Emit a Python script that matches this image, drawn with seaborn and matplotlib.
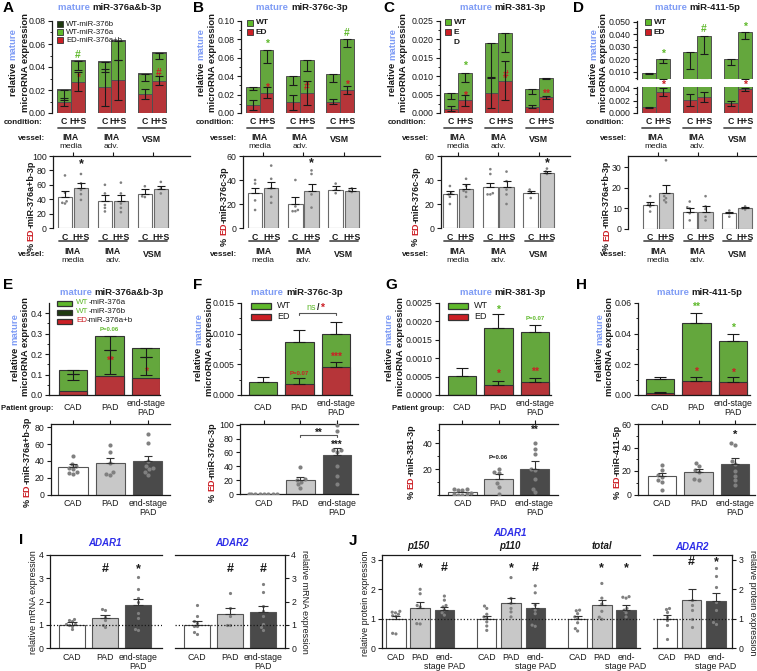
import numpy as np
import pandas as pd
import matplotlib
matplotlib.use("Agg")
import matplotlib.pyplot as plt
import seaborn as sns
from matplotlib import transforms
from matplotlib.patches import Rectangle
from matplotlib.lines import Line2D
from matplotlib.ticker import FixedLocator, FormatStrFormatter

# ============================ DATA ============================
vessels = ["IMA media", "IMA adv.", "VSM"]
vessel_main = ["IMA", "IMA", "VSM"]
vessel_sub = ["media", "adv.", ""]
conditions = ["C", "H+S"]
groups = ["CAD", "PAD", "end-stage PAD"]
group_labels = [["CAD"], ["PAD"], ["end-stage", "PAD"]]
group_labels_j = [["CAD"], ["PAD"], ["end-", "stage PAD"]]
isoforms = ["p150", "p110", "total"]

# --- A: miR-376a&b-3p (stacked; order per vessel: C, H+S)
a_total = [0.0199, 0.0455, 0.0446, 0.0627, 0.0340, 0.0524]
a_wt376b = [0.0006, 0.0006, 0.0006, 0.0006, 0.0006, 0.0006]
a_ed = [0.0095, 0.0273, 0.0224, 0.0288, 0.0164, 0.0282]
a_ed_lo = [0.0063, 0.0187, 0.0063, 0.0115, 0.0120, 0.0242]
a_ed_hi = [0.0127, 0.0360, 0.0385, 0.0460, 0.0210, 0.0322]
a_wt_lo = [0.0110, 0.0374, 0.0360, 0.0460, 0.0275, 0.0466]
a_pct_mean = [43.6, 55.0, 38.0, 37.6, 47.0, 53.7]
a_pct_sem = [8.4, 8.0, 8.0, 8.4, 6.7, 5.0]
a_pct_pts = [[73, 49, 37, 35, 34], [75, 62, 53, 47, 39], [60, 48, 32, 28, 23],
             [63, 48, 34, 28, 22], [58, 44, 43], [64, 55, 48]]

# --- B: miR-376c-3p
b_total = [0.028, 0.068, 0.040, 0.058, 0.042, 0.080]
b_ed = [0.009, 0.022, 0.0115, 0.022, 0.0125, 0.025]
b_ed_lo = [0.0036, 0.016, 0.0035, 0.009, 0.010, 0.021]
b_ed_hi = [0.0144, 0.028, 0.0195, 0.035, 0.015, 0.029]
b_wt_lo = [0.0245, 0.0547, 0.030, 0.046, 0.0335, 0.072]
b_pct_mean = [29.0, 33.0, 20.0, 31.0, 31.7, 31.0]
b_pct_sem = [4.0, 5.6, 6.0, 5.6, 3.3, 2.0]
b_pct_pts = [[40, 37, 23, 15], [52, 41, 33, 26, 21], [40, 18, 15, 14, 14],
             [48, 45, 28, 17], [37, 32, 29], [33, 31, 30]]

# --- C: miR-381-3p
c_total = [0.0053, 0.0110, 0.0190, 0.0217, 0.0065, 0.0096]
c_ed = [0.0012, 0.0034, 0.0055, 0.0088, 0.0017, 0.0043]
c_ed_lo = [0.0006, 0.0020, 0.0013, 0.0036, 0.0013, 0.0039]
c_ed_hi = [0.0018, 0.0048, 0.0097, 0.0140, 0.0021, 0.0047]
c_wt_lo = [0.0038, 0.0085, 0.0094, 0.0166, 0.0052, 0.0093]
c_pct_mean = [28.0, 32.5, 34.5, 34.5, 29.0, 45.5]
c_pct_sem = [3.0, 4.0, 3.2, 5.0, 2.0, 2.2]
c_pct_pts = [[35, 29, 26, 20, 28], [41, 35, 31, 26, 30], [49, 45, 29, 28, 28],
             [47, 39, 32, 28, 20], [32, 30, 25], [49.5, 47, 45]]

# --- D: miR-411-5p (broken axis)
d_total = [0.0093, 0.0205, 0.0255, 0.0385, 0.0200, 0.0415]
d_ed = [0.0009, 0.0034, 0.0021, 0.0026, 0.0016, 0.0038]
d_ed_lo = [0.0008, 0.0027, 0.0012, 0.0017, 0.0012, 0.0035]
d_ed_hi = [0.0010, 0.0041, 0.0030, 0.0034, 0.0020, 0.0040]
d_wt_lo = [0.0080, 0.0170, 0.0120, 0.0245, 0.0158, 0.0360]
d_pct_mean = [11.8, 17.7, 8.5, 8.5, 7.7, 10.0]
d_pct_sem = [1.6, 4.0, 1.5, 2.5, 0.8, 0.5]
d_pct_pts = [[16, 12, 11, 8.5], [33.5, 16, 15, 14, 13], [13.4, 10.6, 10, 7.7, 4.2],
             [16, 11, 9.7, 6, 4.2], [9, 7.7, 6], [11, 10, 9.5]]

# --- E: miR-376a&b-3p patients
e_total = [0.120, 0.290, 0.231]
e_ed = [0.021, 0.092, 0.081]
e_ed_lo = [0.073, 0.105, 0.097]
e_ed_hi = [0.102, 0.222, 0.186]
e_wt_lo = [0.102, 0.222, 0.186]
e_pct_mean = [33.0, 38.0, 40.0]
e_pct_sem = [3.0, 5.5, 6.0]
e_pct_pts = [[46, 36, 34, 32, 30, 27, 25, 26], [59, 51, 38, 27, 24, 23],
             [72, 61, 40, 34, 31, 30, 27, 23]]

# --- F: miR-376c-3p patients
f_total = [0.0022, 0.00866, 0.0100]
f_ed = [0.0, 0.0018, 0.0045]
f_ed_err = [0.0, 0.0009, 0.0009]
f_wt_err = [0.0007, 0.0019, 0.0019]
f_pct_mean = [0.0, 20.0, 56.0]
f_pct_sem = [0.0, 4.5, 11.0]
f_pct_pts = [[0, 0, 0, 0, 0, 0, 0, 0], [39, 22, 20, 18, 14, 9],
             [100, 91, 64, 63, 61, 40, 26, 14]]

# --- G: miR-381-3p patients
g_total = [0.00052, 0.00182, 0.00170]
g_ed = [0.0, 0.00028, 0.00034]
g_ed_err = [0.0, 0.00011, 0.00011]
g_wt_err = [0.00022, 0.00039, 0.00021]
g_pct_mean = [2.0, 12.7, 20.5]
g_pct_sem = [0.7, 3.3, 5.5]
g_pct_pts = [[5, 4.5, 4, 3.5, 1.5, 1.0, 0.5, 0.3, 0.2], [20.5, 18, 17, 9, 6, 1],
             [40.5, 36, 32, 20.5, 19, 12.7, 5, 2]]

# --- H: miR-411-5p patients
h_total = [0.0102, 0.0470, 0.0351]
h_ed = [0.0010, 0.0092, 0.0087]
h_ed_err = [0.0007, 0.0027, 0.0028]
h_wt_err = [0.0017, 0.0067, 0.0049]
h_pct_mean = [15.5, 19.4, 26.0]
h_pct_sem = [2.7, 2.3, 5.0]
h_pct_pts = [[25, 21, 17, 15, 12, 11, 4], [27, 24, 21, 19, 13, 12],
             [43.5, 42.5, 28.6, 26, 20.3, 15.7, 12, 8]]

# --- I: mRNA
i_adar1_mean = [1.00, 1.29, 1.83]
i_adar1_sem = [0.10, 0.11, 0.28]
i_adar1_pts = [[1.25, 1.2, 1.15, 1.05, 1.02, 0.98, 0.95, 0.8], [1.68, 1.62, 1.35, 1.2, 1.0, 0.9],
               [3.07, 2.53, 2.14, 1.96, 1.5, 1.29, 0.81, 0.76]]
i_adar2_mean = [1.00, 1.47, 1.53]
i_adar2_sem = [0.14, 0.27, 0.28]
i_adar2_pts = [[1.85, 1.36, 1.14, 1.07, 0.95, 0.93, 0.67, 0.61], [2.36, 1.71, 1.36, 1.0, 0.97],
               [2.74, 2.43, 1.8, 1.57, 1.36, 1.04, 0.9, 0.79]]

# --- J: protein
j_adar1_mean = [[1.00, 1.38, 1.31], [0.98, 1.52, 1.35], [0.99, 1.46, 1.31]]
j_adar1_sem = [[0.10, 0.19, 0.09], [0.12, 0.20, 0.17], [0.11, 0.19, 0.15]]
j_adar1_pts = [
    [[1.25, 1.22, 1.2, 1.15, 1.1, 1.08, 0.5, 0.48], [2.0, 1.85, 1.45, 1.4, 0.83, 0.82],
     [1.77, 1.63, 1.45, 1.4, 1.3, 1.2, 1.12]],
    [[1.43, 1.35, 1.15, 1.06, 1.0, 0.89, 0.75, 0.6], [2.4, 1.69, 1.52, 1.35, 1.23, 1.06],
     [2.12, 1.88, 1.46, 1.29, 1.17, 0.78, 0.74]],
    [[1.29, 1.27, 1.17, 1.06, 1.0, 0.86, 0.66, 0.58], [2.2, 1.7, 1.5, 1.25, 1.05, 0.98],
     [1.75, 1.73, 1.7, 1.35, 1.29, 1.2, 1.06]],
]
j_adar2_mean = [1.00, 1.63, 1.60]
j_adar2_sem = [0.12, 0.37, 0.27]
j_adar2_pts = [[1.36, 1.33, 1.23, 1.06, 0.95, 0.8, 0.32], [1.62, 1.46, 1.3, 1.0, 0.72],
               [2.71, 2.45, 2.08, 1.57, 1.29, 0.89, 0.83]]

# ============================ STYLE ============================
sns.set_theme(style="white")
plt.rcParams["font.family"] = ["Liberation Sans", "DejaVu Sans"]
plt.rcParams["axes.linewidth"] = 0.9

GREEN = "#5fb92b"
DKGREEN = "#1f3a10"
RED = "#cc1f25"
BLUE_M = "#7f9cf5"
ADARBLUE = "#2e2ee8"
EDGE = "#505050"
WHITE = "#ffffff"
LGRAY = "#c8c8c8"
DGRAY = "#4a4a4a"
DOT = "#808080"
INK = "#1a1a1a"

FS_TICK = 6.3
FS_LAB = 6.8
FS_PCT = 6.5
FS_ROW = 5.8
FS_COND = 6.3
FS_CAT = 6.3
FS_TITLE = 6.8
FS_LET = 11

W, H = 757, 671
fig = plt.figure(figsize=(W / 100, H / 100), dpi=100)
_R = fig.canvas.get_renderer()


def axpx(l, t, r, b):
    return fig.add_axes([l / W, 1 - b / H, (r - l) / W, (b - t) / H])


def ftext(x, y, s, **kw):
    return fig.text(x / W, 1 - y / H, s, **kw)


def twidth(s, **kw):
    t = fig.text(0, 0, s, **kw)
    w = t.get_window_extent(_R).width
    t.remove()
    return w


def ctext(x, y, parts, rot=0, ha="center", **kw):
    full = "".join(p for p, _ in parts)
    tot = twidth(full, **kw)
    bar = twidth("|", **kw)
    start = {"center": -tot / 2, "left": 0.0, "right": -tot}[ha]
    pre = ""
    for s, c in parts:
        off = start + ((twidth(pre + "|", **kw) - bar) if pre else 0.0)
        if rot == 0:
            fig.text((x + off) / W, 1 - y / H, s, color=c, ha="left", va="center", **kw)
        else:
            fig.text(x / W, 1 - (y - off) / H, s, color=c, rotation=90, ha="center", va="bottom", **kw)
        pre += s


def xt(ax, x, ypx, s, **kw):
    tr = transforms.blended_transform_factory(ax.transData, fig.transFigure)
    ax.text(x, 1 - ypx / H, s, transform=tr, clip_on=False, **kw)


def xlines_text(ax, x, ypx_center, lines, step=9.5, **kw):
    n = len(lines)
    for i, s in enumerate(lines):
        xt(ax, x, ypx_center + (i - (n - 1) / 2) * step, s, ha="center", va="center", **kw)


def xline(ax, x0, x1, ypx, **kw):
    tr = transforms.blended_transform_factory(ax.transData, fig.transFigure)
    ax.add_line(Line2D([x0, x1], [1 - ypx / H] * 2, transform=tr, clip_on=False, **kw))


def rectpx(x0, y0, w, h, fc, ec="none", lw=0.6):
    fig.patches.append(Rectangle((x0 / W, 1 - (y0 + h) / H), w / W, h / H, transform=fig.transFigure,
                                 facecolor=fc, edgecolor=ec, linewidth=lw))


def setup(ax, ylim, ticks, fmt, minor=None, left=True, right=False, top=False, bottom=False):
    ax.set_ylim(*ylim)
    ax.yaxis.set_major_locator(FixedLocator(ticks))
    ax.yaxis.set_major_formatter(FormatStrFormatter(fmt))
    if minor is not None:
        ax.yaxis.set_minor_locator(FixedLocator(minor))
    for s, v in [("left", left), ("right", right), ("top", top), ("bottom", bottom)]:
        ax.spines[s].set_visible(v)
        ax.spines[s].set_color(INK)
        ax.spines[s].set_linewidth(0.9)
    ax.tick_params(axis="y", which="major", direction="out", length=3, width=0.8, labelsize=FS_TICK,
                   pad=1.5, left=left, right=right, labelleft=left, labelright=right, colors=INK)
    ax.tick_params(axis="y", which="minor", direction="out", length=1.6, width=0.7, left=left, right=right)
    ax.tick_params(axis="x", which="both", bottom=False, top=False, labelbottom=False, labeltop=False)
    ax.set_xlabel("")
    ax.set_ylabel("")
    ax.set_facecolor("none")


def top_ticks(ax):
    ax.set_xticks(range(3))
    ax.tick_params(axis="x", which="major", top=True, bottom=False, direction="out", length=3,
                   width=0.8, labeltop=False, labelbottom=False, colors=INK)


def errlines(ax, xs, lo, hi, cap, lw=0.8, color=INK):
    lo = np.asarray(lo, float)
    hi = np.asarray(hi, float)
    xs = np.asarray(xs, float)
    ok = hi > lo
    ax.errorbar(xs[ok], ((lo + hi) / 2)[ok], yerr=((hi - lo) / 2)[ok], fmt="none", ecolor=color,
                elinewidth=lw, capsize=cap, capthick=lw, zorder=5)


def pair_x(off):
    return [g + s * off for g in range(3) for s in (-1, 1)]


def stacked_pairs(ax, tot, ed, extra=None):
    df = pd.DataFrame({"vessel": np.repeat(vessels, 2), "cond": conditions * 3, "tot": tot, "ed": ed})
    layers = []
    if extra is not None:
        df["top"] = np.asarray(tot) + np.asarray(extra)
        layers.append(("top", DKGREEN))
    layers += [("tot", GREEN), ("ed", RED)]
    for col, colr in layers:
        sns.barplot(data=df, x="vessel", y=col, hue="cond", order=vessels, hue_order=conditions,
                    palette=[colr, colr], width=0.68, gap=0, errorbar=None, edgecolor=EDGE,
                    linewidth=0.7, legend=False, ax=ax)


def lower_pairs(ax, means, sems, pts):
    df = pd.DataFrame({"vessel": np.repeat(vessels, 2), "cond": conditions * 3, "v": means})
    sns.barplot(data=df, x="vessel", y="v", hue="cond", order=vessels, hue_order=conditions,
                palette=[WHITE, LGRAY], width=0.8, gap=0.1, errorbar=None, edgecolor="#6a6a6a",
                linewidth=0.8, legend=False, ax=ax)
    rows = [(vessels[i // 2], conditions[i % 2], p) for i, ps in enumerate(pts) for p in ps]
    dp = pd.DataFrame(rows, columns=["vessel", "cond", "v"])
    sns.swarmplot(data=dp, x="vessel", y="v", hue="cond", order=vessels, hue_order=conditions,
                  palette=[DOT, DOT], dodge=True, size=1.9, legend=False, ax=ax)
    errlines(ax, pair_x(0.2), means, np.asarray(means) + np.asarray(sems), 2.6)


def lower_single(ax, means, sems, pts, size, width, cap):
    df = pd.DataFrame({"g": groups, "v": means})
    sns.barplot(data=df, x="g", y="v", hue="g", order=groups, hue_order=groups,
                palette=[WHITE, LGRAY, DGRAY], width=width, errorbar=None, edgecolor="#555555",
                linewidth=0.8, legend=False, ax=ax)
    dp = pd.DataFrame([(g, p) for g, ps in zip(groups, pts) for p in ps], columns=["g", "v"])
    sns.swarmplot(data=dp, x="g", y="v", order=groups, color=DOT, size=size, ax=ax)
    errlines(ax, range(3), means, np.asarray(means) + np.asarray(sems), cap, color="#333333")


def stacked_single(ax, tot, ed):
    df = pd.DataFrame({"g": groups, "tot": tot, "ed": ed})
    for col, colr in [("tot", GREEN), ("ed", RED)]:
        sns.barplot(data=df, x="g", y=col, order=groups, color=colr, width=0.78, errorbar=None,
                    edgecolor="#333333", linewidth=0.8, ax=ax)


def star(ax, x, y, s, color=INK, fs=7.5, **kw):
    ax.text(x, y, s, ha="center", va="center", color=color, fontsize=fs, fontweight="bold",
            clip_on=False, **kw)


def pair_labels(ax, y_cond, y_line, y_ves, y_sub, line_half, cond_off, xrow, with_cond):
    for g in range(3):
        for k, c in enumerate(conditions):
            xt(ax, g + (2 * k - 1) * cond_off, y_cond, c, ha="center", va="center",
               fontsize=FS_COND, fontweight="bold", color=INK)
        xline(ax, g - line_half, g + line_half, y_line, color="#555555", lw=1.3)
        if vessel_sub[g]:
            xt(ax, g, y_ves - 2, vessel_main[g], ha="center", va="center", fontsize=FS_COND,
               fontweight="bold", color=INK)
            xt(ax, g, y_sub, vessel_sub[g], ha="center", va="center", fontsize=6.0, color=INK)
        else:
            xt(ax, g, y_ves, vessel_main[g], ha="center", va="center", fontsize=FS_COND,
               fontweight="bold", color=INK)
    if with_cond:
        ftext(xrow, y_cond, "condition:", ha="right", va="center", fontsize=FS_ROW, fontweight="bold", color=INK)
    ftext(xrow + 2, y_ves, "vessel:", ha="right", va="center", fontsize=FS_ROW, fontweight="bold", color=INK)


def mature_ylabel(x1, x2, yc):
    kw = dict(fontsize=FS_LAB, fontweight="bold")
    ctext(x1, yc, [("relative ", INK), ("mature", BLUE_M)], rot=90, **kw)
    ctext(x2, yc, [("microRNA expression", INK)], rot=90, **kw)


def pct_ylabel(x, yc, name):
    ctext(x, yc, [("% ", INK), ("ED", RED), (name, INK)], rot=90, fontsize=FS_PCT, fontweight="bold")


def title(x, y, name):
    ctext(x, y, [("mature ", BLUE_M), (name, INK)], fontsize=FS_TITLE, fontweight="bold")


def letter(x, y, s):
    ftext(x, y, s, ha="left", va="center", fontsize=FS_LET, fontweight="bold", color="black")


# ============================ ROW 1 (A-D) ============================
top_cfg = [
    dict(L="A", lx=3, tx=110, name="miR-376a&b-3p", box=(52, 21, 168, 113), xl=(-0.47, 2.4),
         ylim=(0, 0.08), ticks=np.round(np.arange(0, 0.0801, 0.02), 4), fmt="%.2f",
         minor=np.round(np.arange(0.01, 0.08, 0.02), 4),
         tot=a_total, ed=a_ed, elo=a_ed_lo, ehi=a_ed_hi, wlo=a_wt_lo, extra=a_wt376b,
         ylx=(13, 25), xrow=43,
         lbox=(53, 156, 190, 228), lxl=(-0.5, 2.93), lylim=(0, 100), lticks=[0, 20, 40, 60, 80, 100],
         pm=a_pct_mean, ps=a_pct_sem, pp=a_pct_pts, pname="-miR-376a+b-3p", plx=31),
    dict(L="B", lx=193, tx=302, name="miR-376c-3p", box=(241, 21, 358, 113), xl=(-0.47, 2.45),
         ylim=(0, 0.10), ticks=np.round(np.arange(0, 0.1001, 0.02), 4), fmt="%.2f",
         minor=np.round(np.arange(0.01, 0.1, 0.02), 4),
         tot=b_total, ed=b_ed, elo=b_ed_lo, ehi=b_ed_hi, wlo=b_wt_lo, extra=None,
         ylx=(201, 212), xrow=235,
         lbox=(243, 156, 380, 228), lxl=(-0.5, 2.9), lylim=(0, 60), lticks=[0, 20, 40, 60],
         pm=b_pct_mean, ps=b_pct_sem, pp=b_pct_pts, pname="-miR-376c-3p", plx=224),
    dict(L="C", lx=383, tx=503, name="miR-381-3p", box=(440, 21, 558, 113), xl=(-0.44, 2.47),
         ylim=(0, 0.025), ticks=np.round(np.arange(0, 0.02501, 0.005), 4), fmt="%.3f",
         minor=np.round(np.arange(0.0025, 0.025, 0.005), 5),
         tot=c_total, ed=c_ed, elo=c_ed_lo, ehi=c_ed_hi, wlo=c_wt_lo, extra=None,
         ylx=(393, 404), xrow=427,
         lbox=(441, 156, 570, 228), lxl=(-0.42, 2.77), lylim=(0, 60), lticks=[0, 20, 40, 60],
         pm=c_pct_mean, ps=c_pct_sem, pp=c_pct_pts, pname="-miR-376c-3p", plx=416),
]

for cfg in top_cfg:
    letter(cfg["lx"], 8, cfg["L"])
    title(cfg["tx"], 7, cfg["name"])
    ax = axpx(*cfg["box"])
    stacked_pairs(ax, cfg["tot"], cfg["ed"], cfg["extra"])
    xs = pair_x(0.17)
    errlines(ax, xs, cfg["elo"], cfg["ehi"], 2.6)
    errlines(ax, xs, cfg["wlo"], cfg["tot"], 2.6)
    setup(ax, cfg["ylim"], cfg["ticks"], cfg["fmt"], cfg["minor"])
    ax.set_xlim(*cfg["xl"])
    pair_labels(ax, 122, 128, 139, 147, 0.33, 0.17, cfg["xrow"], True)
    mature_ylabel(cfg["ylx"][0], cfg["ylx"][1], 62)
    cfg["ax"] = ax
    lx = axpx(*cfg["lbox"])
    lower_pairs(lx, cfg["pm"], cfg["ps"], cfg["pp"])
    setup(lx, cfg["lylim"], cfg["lticks"], "%d", top=True)
    top_ticks(lx)
    lx.set_xlim(*cfg["lxl"])
    pair_labels(lx, 237, 241, 254, 260, 0.35, 0.21, cfg["xrow"], False)
    pct_ylabel(cfg["plx"], 206, cfg["pname"])
    cfg["lax"] = lx

axA, axB, axC = top_cfg[0]["ax"], top_cfg[1]["ax"], top_cfg[2]["ax"]
xs = pair_x(0.17)
star(axA, xs[1], 0.0500, "#", GREEN)
star(axA, xs[1], 0.0310, "*", RED)
star(axA, xs[5], 0.0345, "#", RED)
star(top_cfg[0]["lax"], pair_x(0.2)[1], 89, "*", INK, 9)
star(axB, xs[1], 0.0755, "*", GREEN)
star(axB, xs[1], 0.0275, "*", RED)
star(axB, xs[3], 0.0285, "#", RED)
star(axB, xs[5], 0.0865, "#", GREEN)
star(axB, xs[5], 0.0310, "*", RED)
star(top_cfg[1]["lax"], pair_x(0.2)[3], 54, "*", INK, 9)
star(axC, xs[1], 0.0128, "*", GREEN)
star(axC, xs[1], 0.0047, "*", RED)
star(axC, xs[3], 0.0103, "#", RED)
star(axC, xs[5], 0.0052, "**", RED)
star(top_cfg[2]["lax"], pair_x(0.2)[5], 54, "*", INK, 9)

for (x, y), (txt, col) in zip([(57, 24), (57, 32), (57, 40)],
                              [("WT-miR-376b", DKGREEN), ("WT-miR-376a", GREEN), ("ED-miR-376a+b", RED)]):
    rectpx(x, y - 3, 6, 6, col, "#333333")
    ftext(x + 9, y, txt, ha="left", va="center", fontsize=5.6, color=INK)
for (x, y), (txt, col) in zip([(247, 23), (247, 32)], [("WT", GREEN), ("ED", RED)]):
    rectpx(x, y - 3, 6, 6, col, "#333333")
    ftext(x + 9, y, txt, ha="left", va="center", fontsize=6, fontweight="bold", color=INK)
rectpx(445, 19, 6, 6, GREEN, "#333333")
ftext(454, 22, "WT", ha="left", va="center", fontsize=6, fontweight="bold", color=INK)
rectpx(445, 29, 6, 6, RED, "#333333")
ftext(454, 32, "E", ha="left", va="center", fontsize=6, fontweight="bold", color=INK)
ftext(454, 42, "D", ha="left", va="center", fontsize=6, fontweight="bold", color=INK)

# ---------------- D (broken axis) ----------------
letter(573, 8, "D")
title(698, 7, "miR-411-5p")
d_up = axpx(637, 21, 753, 79)
d_lo = axpx(637, 87, 753, 113)
for axd in (d_up, d_lo):
    stacked_pairs(axd, d_total, d_ed)
    errlines(axd, xs, d_ed_lo, d_ed_hi, 2.6)
    errlines(axd, xs, d_wt_lo, d_total, 2.6)
setup(d_up, (0.0043, 0.0505), np.round(np.arange(0.01, 0.0501, 0.01), 3), "%.3f",
      np.round(np.arange(0.005, 0.05, 0.01), 4))
setup(d_lo, (0, 0.0042), [0, 0.002, 0.004], "%.3f", [0.001, 0.003])
d_up.set_xlim(-0.46, 2.37)
d_lo.set_xlim(-0.46, 2.37)
pair_labels(d_lo, 122, 128, 139, 147, 0.33, 0.17, 625, True)
mature_ylabel(594, 604, 62)
star(d_up, xs[1], 0.0245, "*", GREEN)
star(d_lo, xs[1], 0.0045, "*", RED)
star(d_up, xs[3], 0.0440, "#", GREEN)
star(d_up, xs[5], 0.0460, "*", GREEN)
star(d_lo, xs[5], 0.0046, "*", RED)
for (x, y), (txt, col) in zip([(645, 22), (645, 32)], [("WT", GREEN), ("ED", RED)]):
    rectpx(x, y - 3, 6, 6, col, "#333333")
    ftext(x + 9, y, txt, ha="left", va="center", fontsize=6, fontweight="bold", color=INK)

d_low = axpx(628, 156, 757, 229)
lower_pairs(d_low, d_pct_mean, d_pct_sem, d_pct_pts)
setup(d_low, (0, 35.6), [0, 10, 20, 30], "%d", top=True)
top_ticks(d_low)
d_low.set_xlim(-0.76, 2.5)
pair_labels(d_low, 237, 241, 254, 260, 0.35, 0.21, 625, False)
pct_ylabel(606.5, 206, "-miR-376a+b-3p")

# ============================ ROW 2 (E-H) ============================
row2 = [
    dict(L="E", lx=3, tx=112, name="miR-376a&b-3p", box=(49, 303, 160, 395), xl=(-0.66, 2.38),
         ylim=(0, 0.45), ticks=[0, 0.1, 0.2, 0.3, 0.4], fmt="%.1f", minor=[0.05, 0.15, 0.25, 0.35],
         ylx=(15, 26), pg=53,
         lbox=(51, 424, 170, 494.5), lxl=(-0.59, 2.6), lylim=(0, 84), lticks=[0, 20, 40, 60, 80],
         lminor=None, pm=e_pct_mean, ps=e_pct_sem, pp=e_pct_pts, pname="-miR-376a+b-3p", plx=27),
    dict(L="F", lx=193, tx=297, name="miR-376c-3p", box=(241, 303, 352, 395), xl=(-0.6, 2.44),
         ylim=(0, 0.015), ticks=[0, 0.005, 0.010, 0.015], fmt="%.3f", minor=[0.0025, 0.0075, 0.0125],
         ylx=(199, 209.5), pg=None,
         lbox=(240, 424, 358, 494), lxl=(-0.66, 2.58), lylim=(0, 101), lticks=[0, 20, 40, 60, 80, 100],
         lminor=None, pm=f_pct_mean, ps=f_pct_sem, pp=f_pct_pts, pname="-miR-376c-3p", plx=212),
    dict(L="G", lx=385, tx=503, name="miR-381-3p", box=(439, 303, 551, 395), xl=(-0.63, 2.44),
         ylim=(0, 0.0025), ticks=[0, 0.0005, 0.001, 0.0015, 0.002, 0.0025], fmt="%.4f", minor=None,
         ylx=(389, 400), pg=445,
         lbox=(439, 424, 558, 495), lxl=(-0.65, 2.65), lylim=(0, 55), lticks=[20, 40],
         lminor=[0, 10, 30, 50], pm=g_pct_mean, ps=g_pct_sem, pp=g_pct_pts, pname="-miR-381-3p", plx=411),
    dict(L="H", lx=576, tx=700, name="miR-411-5p", box=(638, 303, 750, 395), xl=(-0.6, 2.47),
         ylim=(0, 0.06), ticks=[0, 0.02, 0.04, 0.06], fmt="%.2f", minor=[0.01, 0.03, 0.05],
         ylx=(600, 610), pg=None,
         lbox=(638, 424, 755, 494.5), lxl=(-0.66, 2.55), lylim=(0, 60), lticks=[0, 20, 40, 60],
         lminor=[10, 30, 50], pm=h_pct_mean, ps=h_pct_sem, pp=h_pct_pts, pname="-miR-411-5p", plx=617),
]
for cfg in row2:
    letter(cfg["lx"], 285, cfg["L"])
    title(cfg["tx"], 292, cfg["name"])
    ax = axpx(*cfg["box"])
    cfg["ax"] = ax
    mature_ylabel(cfg["ylx"][0], cfg["ylx"][1], 347)
    lx = axpx(*cfg["lbox"])
    cfg["lax"] = lx
    lower_single(lx, cfg["pm"], cfg["ps"], cfg["pp"], 3.0, 0.78, 3.2)
    setup(lx, cfg["lylim"], cfg["lticks"], "%d", cfg["lminor"], top=True, bottom=True)
    top_ticks(lx)
    lx.set_xlim(*cfg["lxl"])
    for g in range(3):
        lines = group_labels[g]
        xlines_text(lx, g, 503 + (len(lines) - 1) * 4.75, lines, fontsize=FS_CAT, color=INK)
    pct_ylabel(cfg["plx"], 462, cfg["pname"])

axE = row2[0]["ax"]
stacked_single(axE, e_total, e_ed)
errlines(axE, range(3), e_ed_lo, e_ed_hi, 4.5)
errlines(axE, range(3), e_wt_lo, e_total, 4.5)
for cfg, tot, ed, ee, we in [(row2[1], f_total, f_ed, f_ed_err, f_wt_err),
                             (row2[2], g_total, g_ed, g_ed_err, g_wt_err),
                             (row2[3], h_total, h_ed, h_ed_err, h_wt_err)]:
    stacked_single(cfg["ax"], tot, ed)
    errlines(cfg["ax"], range(3), ed, np.asarray(ed) + np.asarray(ee), 4.0)
    errlines(cfg["ax"], range(3), tot, np.asarray(tot) + np.asarray(we), 4.0)
for cfg in row2:
    ax = cfg["ax"]
    setup(ax, cfg["ylim"], cfg["ticks"], cfg["fmt"], cfg["minor"], bottom=True)
    ax.set_xlim(*cfg["xl"])
    for g in range(3):
        xlines_text(ax, g, 408, group_labels[g], fontsize=FS_CAT, color=INK)
    if cfg["pg"]:
        ftext(cfg["pg"], 408, "Patient group:", ha="right", va="center", fontsize=5.6,
              fontweight="bold", color=INK)

axF, axG, axH = row2[1]["ax"], row2[2]["ax"], row2[3]["ax"]
star(axE, 1, 0.318, "P=0.06", GREEN, 4.3)
star(axE, 1, 0.165, "**", RED)
star(axE, 2, 0.113, "*", RED)
star(axF, 1, 0.0035, "P=0.07", RED, 4.3)
star(axF, 2, 0.0062, "***", RED)
axF.plot([1, 1, 2, 2], [0.0131, 0.0134, 0.0134, 0.0131], color="#555555", lw=0.8, clip_on=False)
axF.text(1.44, 0.0142, "ns", ha="right", va="center", color=GREEN, fontsize=6.5, clip_on=False)
axF.text(1.5, 0.0142, "/", ha="center", va="center", color=INK, fontsize=6.5, fontweight="bold", clip_on=False)
axF.text(1.56, 0.0142, "*", ha="left", va="center", color=RED, fontsize=7.5, fontweight="bold", clip_on=False)
star(axG, 1, 0.00232, "*", GREEN)
star(axG, 1, 0.00057, "*", RED)
star(axG, 2, 0.00209, "P=0.07", GREEN, 4.3)
star(axG, 2, 0.00062, "**", RED)
star(axH, 1, 0.0575, "**", GREEN)
star(axH, 1, 0.0152, "*", RED)
star(axH, 2, 0.0435, "*", GREEN)
star(axH, 2, 0.0147, "*", RED)
lF, lG, lH = row2[1]["lax"], row2[2]["lax"], row2[3]["lax"]
lF.plot([1, 1, 2, 2], [82.5, 84.5, 84.5, 82.5], color="#555555", lw=0.8, clip_on=False)
star(lF, 1.5, 88.5, "**", INK, 7)
star(lF, 2, 71, "***", INK, 7)
star(lG, 1, 29, "P=0.06", INK, 4.3)
star(lG, 2, 50.5, "**", INK, 7)
star(lH, 2, 51, "*", INK, 8)

ctext(76, 303, [("WT", GREEN), ("-miR-376a", INK)], ha="left", fontsize=5.8)
ctext(76, 312, [("WT", GREEN), ("-miR-376b", INK)], ha="left", fontsize=5.8)
ctext(76, 321, [("ED", RED), ("-miR-376a+b", INK)], ha="left", fontsize=5.8)
rectpx(57, 300.5, 15, 5, GREEN, "#333333", 0.9)
rectpx(57, 309.5, 15, 5, DKGREEN, "#333333", 0.9)
rectpx(57, 318.5, 15, 5, RED, "#333333", 0.9)
for x0 in (251, 448):
    rectpx(x0, 303, 20, 6, GREEN, "#333333", 0.9)
    rectpx(x0, 314, 20, 6, RED, "#333333", 0.9)
    ftext(x0 + 26, 306, "WT", ha="left", va="center", fontsize=6.5, color=INK)
    ftext(x0 + 26, 317, "ED", ha="left", va="center", fontsize=6.5, color=INK)

# ============================ ROW 3 (I-J) ============================
letter(19, 540, "I")
letter(349, 541, "J")
adar_kw = dict(ha="center", va="center", fontsize=7, fontweight="bold", fontstyle="italic", color=ADARBLUE)
ftext(105, 543, "ADAR1", **adar_kw)
ftext(232, 543, "ADAR2", **adar_kw)
ftext(510, 533, "ADAR1", **adar_kw)
ftext(692, 547, "ADAR2", **adar_kw)
for x, s in [(418, "p150"), (510, "p110"), (602, "total")]:
    ftext(x, 546, s, ha="center", va="center", fontsize=7, fontweight="bold", fontstyle="italic", color=INK)

i1 = axpx(50, 555, 162, 648)
lower_single(i1, i_adar1_mean, i_adar1_sem, i_adar1_pts, 2.3, 0.8, 3.4)
setup(i1, (0, 4), [0, 1, 2, 3, 4], "%d", top=True, bottom=True)
i1.set_xlim(-0.67, 2.73)
i2 = axpx(175, 555, 285, 648)
lower_single(i2, i_adar2_mean, i_adar2_sem, i_adar2_pts, 2.3, 0.8, 3.4)
setup(i2, (0, 4), [0, 1, 2, 3, 4], "%d", left=False, right=True, top=True, bottom=True)
i2.set_xlim(-0.67, 2.67)
for ax in (i1, i2):
    ax.axhline(1, ls=(0, (1, 1.6)), color=INK, lw=0.9, zorder=6)
    for g in range(3):
        lines = group_labels[g]
        xlines_text(ax, g, 657 + (len(lines) - 1) * 4.75, lines, fontsize=FS_CAT, color=INK)
star(i1, 1, 3.4, "#", INK, 9)
star(i1, 2, 3.4, "*", INK, 9)
star(i2, 1, 3.4, "#", INK, 9)
star(i2, 2, 3.4, "#", INK, 9)
ftext(33, 602, "relative mRNA expression", rotation=90, ha="center", va="center", fontsize=6.5, color=INK)
ftext(304, 602, "relative mRNA expression", rotation=270, ha="center", va="center", fontsize=6.5, color=INK)

j1 = axpx(382, 555, 640, 648)
jrows = [(isoforms[k], groups[g], j_adar1_mean[k][g]) for k in range(3) for g in range(3)]
jdf = pd.DataFrame(jrows, columns=["iso", "g", "v"])
sns.barplot(data=jdf, x="iso", y="v", hue="g", order=isoforms, hue_order=groups,
            palette=[WHITE, LGRAY, DGRAY], width=0.8, gap=0.2, errorbar=None, edgecolor="#555555",
            linewidth=0.8, legend=False, ax=j1)
jp = pd.DataFrame([(isoforms[k], groups[g], p) for k in range(3) for g in range(3)
                   for p in j_adar1_pts[k][g]], columns=["iso", "g", "v"])
sns.swarmplot(data=jp, x="iso", y="v", hue="g", order=isoforms, hue_order=groups,
              palette=[DOT, DOT, DOT], dodge=True, size=2.3, legend=False, ax=j1)
jx = [k + (g - 1) * 0.8 / 3 for k in range(3) for g in range(3)]
jm = np.ravel(j_adar1_mean)
errlines(j1, jx, jm, jm + np.ravel(j_adar1_sem), 3.0, color="#333333")
setup(j1, (0, 3.17), [0, 1, 2, 3], "%d", top=True, bottom=True)
j1.set_xlim(-0.42, 2.42)
j1.axhline(1, ls=(0, (1, 1.6)), color=INK, lw=0.9, zorder=6)
for i, x in enumerate(jx):
    lines = group_labels_j[i % 3]
    xlines_text(j1, x, 657 + (len(lines) - 1) * 4.75, lines, fontsize=FS_CAT, color=INK)
for k, marks in enumerate([("*", "#"), ("*", "#"), ("*", "*")]):
    star(j1, jx[3 * k + 1], 2.72, marks[0], INK, 9)
    star(j1, jx[3 * k + 2], 2.72, marks[1], INK, 9)

j2 = axpx(653, 555, 732, 648)
lower_single(j2, j_adar2_mean, j_adar2_sem, j_adar2_pts, 2.3, 0.78, 3.0)
setup(j2, (0, 3.17), [0, 1, 2, 3], "%d", left=False, right=True, top=True, bottom=True)
j2.set_xlim(-0.57, 2.65)
j2.axhline(1, ls=(0, (1, 1.6)), color=INK, lw=0.9, zorder=6)
for g in range(3):
    lines = group_labels_j[g]
    xlines_text(j2, g, 657 + (len(lines) - 1) * 4.75, lines, fontsize=FS_CAT, color=INK)
star(j2, 1, 2.92, "#", INK, 9)
star(j2, 2, 2.92, "*", INK, 9)
ftext(365, 603, "relative protein expression", rotation=90, ha="center", va="center", fontsize=6.5, color=INK)
ftext(752, 603, "relative protein expression", rotation=270, ha="center", va="center", fontsize=6.5, color=INK)

fig.savefig("out.png", dpi=100)
